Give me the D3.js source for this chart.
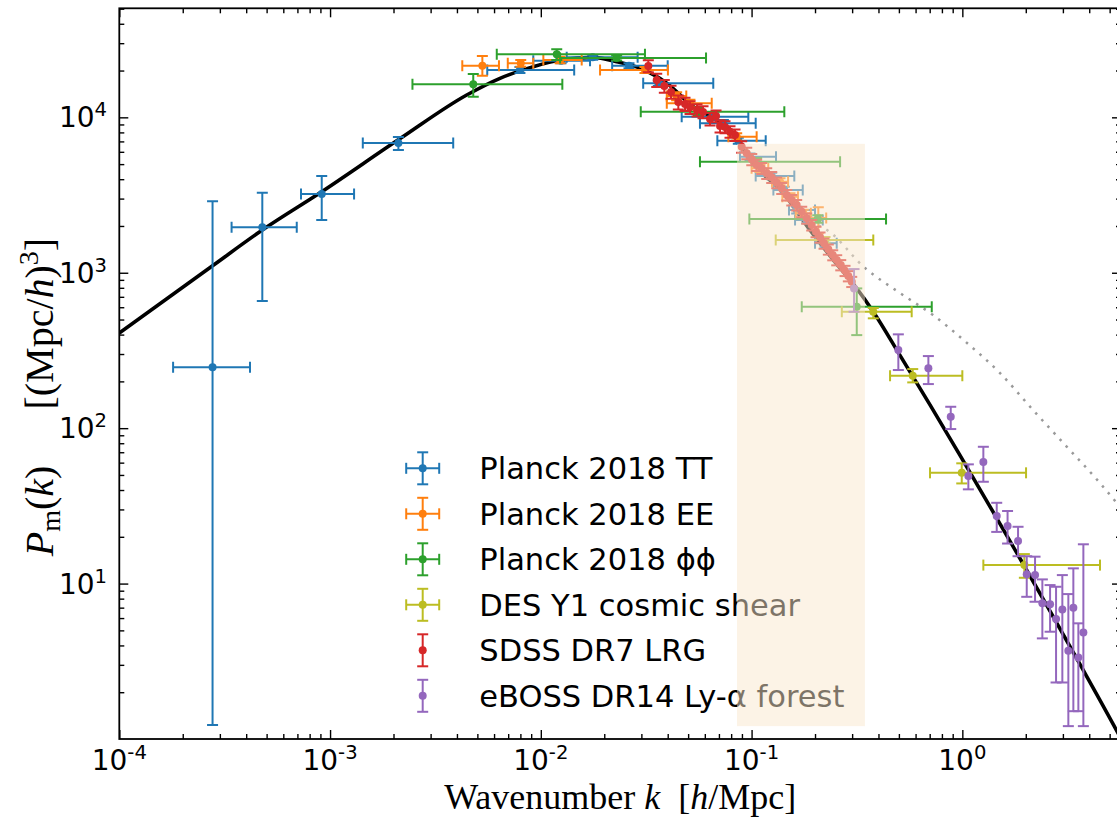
<!DOCTYPE html>
<html><head><meta charset="utf-8">
<script src="https://cdn.jsdelivr.net/npm/d3@7"></script>
<style>body{margin:0;background:#fff}svg{display:block}</style>
</head><body>
<svg id="c" width="1117" height="820"></svg>
<script>
// ---------------- data ----------------
const theoryK = [1e-4, 2.77e-4, 4.77e-4, 9.13e-4, 2.15e-3, 4.45e-3, 6.40e-3, 9.21e-3, 1.234e-2, 1.775e-2, 2.29e-2, 2.96e-2, 3.96e-2, 5.29e-2, 6.83e-2, 8.19e-2, 0.0983, 0.1415, 0.1894, 0.2443, 0.3155, 0.378, 0.5062, 0.7026, 0.9752, 1.353, 1.878, 2.607, 3.618, 5.21, 5.66];
const theoryP = [409, 1109, 1883, 3321, 7300, 13920, 17820, 21200, 23400, 24300, 22800, 20700, 16600, 11700, 9620, 7890, 5310, 3243, 1882, 1207, 794, 561, 294, 141.1, 66.8, 31.3, 14.5, 6.65, 3.02, 1.238, 1.005];

const nonlinK = [0.1894, 0.228, 0.3454, 0.5062, 0.7261, 1.053, 1.51, 2.165, 3.14, 4.50, 5.42, 5.66];
const nonlinP = [2120, 1883, 1072, 740, 534, 353, 226, 130.8, 75.6, 44.3, 32.8, 30.5];

const ttK   = [2.77e-4, 4.77e-4, 9.13e-4, 2.11e-3, 7.96e-3, 1.247e-2, 1.763e-2, 2.62e-2, 3.61e-2, 6.58e-2, 7.35e-2, 8.65e-2, 0.0983, 0.1246, 0.143, 0.1637, 0.1827, 0.2231];
const ttP   = [247, 1959, 3208, 6835, 20160, 23130, 24330, 21480, 16550, 10090, 9150, 7070, 5578, 4191, 3404, 2533, 2183, 1546];
const ttKlo = [1.80e-4, 3.41e-4, 7.28e-4, 1.43e-3, 5.57e-3, 9.21e-3, 1.327e-2, 2.18e-2, 3.06e-2, 4.66e-2, 5.69e-2, 6.88e-2, 8.81e-2, 0.1046, 0.1269, 0.1505, 0.1608, 0.2];
const ttKhi = [4.17e-4, 6.95e-4, 1.30e-3, 3.84e-3, 1.44e-2, 1.712e-2, 2.88e-2, 4.00e-2, 6.58e-2, 9.65e-2, 0.1046, 0.1167, 0.1306, 0.1595, 0.1749, 0.2, 0.2176, 0.2535];
const ttPlo = [1.23, 658, 2183, 6163, 19280, 22300, 23500, 20700, 15900, 9600, 8700, 6750, 5300, 3990, 3240, 2410, 2080, 1470];
const ttPhi = [2880, 3272, 4190, 7468, 21070, 24000, 25200, 22300, 17200, 10600, 9600, 7400, 5850, 4400, 3570, 2660, 2290, 1620];

const eeK   = [5.28e-3, 8.03e-3, 1.234e-2, 3.12e-2, 4.41e-2, 5.10e-2, 8.50e-2, 0.1097, 0.1365, 0.1522, 0.176, 0.2073];
const eeP   = [21480, 22260, 23400, 20160, 13710, 12300, 7505, 4697, 3852, 3083, 2411, 2249];
const eeKlo = [4.24e-3, 6.97e-3, 1.028e-2, 1.91e-2, 3.96e-2, 3.96e-2, 7.76e-2, 0.100, 0.125, 0.140, 0.162, 0.190];
const eeKhi = [6.33e-3, 9.21e-3, 1.563e-2, 4.01e-2, 4.9e-2, 6.47e-2, 0.1057, 0.120, 0.149, 0.166, 0.191, 0.226];
const eePlo = [18530, 21160, 22300, 19300, 12900, 11600, 7100, 4450, 3650, 2920, 2280, 1793];
const eePhi = [24800, 23370, 24500, 21050, 14500, 13000, 7900, 4950, 4060, 3250, 2540, 2635];

const ppK   = [4.78e-3, 1.19e-2, 2.29e-2, 5.59e-2, 0.1057, 0.206, 0.3155];
const ppP   = [16310, 25440, 24070, 10870, 5180, 2216, 604];
const ppKlo = [2.46e-3, 6.18e-3, 1.234e-2, 2.98e-2, 5.69e-2, 0.0976, 0.173];
const ppKhi = [1.265e-2, 3.12e-2, 6.08e-2, 0.143, 0.263, 0.4345, 0.716];
const ppPlo = [13570, 23370, 23200, 10300, 4900, 2100, 397];
const ppPhi = [18990, 27390, 25000, 11500, 5470, 2340, 793];

const desK   = [0.2231, 0.378, 0.5816, 0.9936, 1.969];
const desP   = [1623, 561, 217.4, 51.6, 13.15];
const desKlo = [0.1302, 0.268, 0.454, 0.7026, 1.258];
const desKhi = [0.378, 0.575, 1.0, 2.006, 4.50];
const desPlo = [1550, 509, 197, 44.1, 10.9];
const desPhi = [1700, 593, 240, 59.4, 15.48];

const sdssK = [0.03236, 0.03548, 0.03855, 0.04148, 0.04492, 0.04833, 0.05105, 0.0551, 0.05884, 0.06353, 0.06783, 0.07085, 0.07482, 0.079, 0.08346, 0.08978, 0.09484, 0.1002, 0.1057, 0.1117, 0.118, 0.1246, 0.1316, 0.139, 0.1468, 0.1551, 0.1637, 0.173, 0.1827, 0.1929, 0.2022, 0.2113, 0.2207, 0.2313, 0.2427, 0.2535, 0.2649, 0.2776, 0.2878, 0.2987];
const sdssP = [21380, 17380, 15900, 14550, 12545, 12180, 11600, 11140, 10820, 9750, 10190, 8790, 8660, 8078, 7692, 6468, 5866, 5366, 4932, 4697, 4361, 4111, 3795, 3493, 3162, 2937, 2727, 2469, 2239, 2027, 1835, 1690, 1546, 1415, 1300, 1207, 1121, 1030, 952, 875];
const sdssErr = [1900, 1700, 1500, 1400, 1300, 1200, 1100, 1000, 950, 900, 880, 800, 760, 700, 650, 560, 500, 450, 410, 380, 350, 330, 300, 280, 250, 230, 210, 190, 170, 155, 140, 128, 117, 107, 98, 91, 85, 78, 72, 66];

const ebK   = [0.3063, 0.497, 0.69, 0.881, 1.068, 1.258, 1.456, 1.639, 1.838, 2.021, 2.213, 2.397, 2.608, 2.784, 2.982, 3.184, 3.363, 3.552, 3.752];
const ebP   = [793, 318, 242.6, 118.4, 49.2, 60.5, 27.2, 23.5, 18.8, 11.5, 11.34, 7.46, 7.35, 5.91, 6.82, 3.69, 6.99, 3.35, 4.85];
const ebPlo = [561, 236.6, 192.2, 98.7, 40.4, 45.2, 21.5, 18.1, 15.0, 8.22, 7.64, 4.44, 4.90, 2.31, 2.31, 1.21, 1.51, 1.51, 1.21];
const ebPhi = [1056, 401.5, 291, 137.3, 58.5, 75.9, 33.1, 29.3, 23.2, 15.0, 14.9, 10.64, 9.78, 9.54, 11.34, 8.56, 12.53, 5.55, 17.9];

const bandK = [0.0853, 0.345];
const bandP = [1.21, 6750];

const legendLabels = ["Planck 2018 TT", "Planck 2018 EE", "Planck 2018 \u03d5\u03d5", "DES Y1 cosmic shear", "SDSS DR7 LRG", "eBOSS DR14 Ly-\u03b1 forest"];
const colors = ["#1f77b4", "#ff7f0e", "#2ca02c", "#bcbd22", "#d62728", "#9467bd"];
const xMajor = [1e-4, 1e-3, 1e-2, 1e-1, 1];
const xMajorExp = ["-4", "-3", "-2", "-1", "0"];
const yMajor = [10, 100, 1000, 10000];
const yMajorExp = ["1", "2", "3", "4"];

// ---------------- layout ----------------
const L = 119.3, R = 1121, T = 8.3, B = 739;
const x = d3.scaleLog().domain([1e-4, 5.66]).range([L, R]);
const y = d3.scaleLog().domain([1, 5.03e4]).range([B, T]);
const svg = d3.select("#c");

svg.append("defs").append("clipPath").attr("id", "clip")
  .append("rect").attr("x", L).attr("y", T).attr("width", R - L).attr("height", B - T);
const plot = svg.append("g").attr("clip-path", "url(#clip)");

function rows(K, P, Klo, Khi, Plo, Phi) {
  return K.map((k, i) => ({k, P: P[i], klo: Klo ? Klo[i] : null, khi: Khi ? Khi[i] : null, plo: Plo[i], phi: Phi[i]}));
}
const CAP = 5.5;
function errSeries(data, color) {
  const g = plot.append("g").attr("stroke", color).attr("stroke-width", 2).attr("fill", color);
  const hx = data.filter(d => d.klo != null);
  g.selectAll("line.h").data(hx).join("line").attr("class", "h")
    .attr("x1", d => x(d.klo)).attr("x2", d => x(d.khi)).attr("y1", d => y(d.P)).attr("y2", d => y(d.P));
  g.selectAll("line.v").data(data).join("line").attr("class", "v")
    .attr("x1", d => x(d.k)).attr("x2", d => x(d.k)).attr("y1", d => y(d.plo)).attr("y2", d => y(d.phi));
  const hcaps = hx.flatMap(d => [[d.klo, d.P], [d.khi, d.P]]);
  g.selectAll("line.hc").data(hcaps).join("line").attr("class", "hc")
    .attr("x1", d => x(d[0])).attr("x2", d => x(d[0])).attr("y1", d => y(d[1]) - CAP).attr("y2", d => y(d[1]) + CAP);
  const vcaps = data.flatMap(d => [[d.k, d.plo], [d.k, d.phi]]);
  g.selectAll("line.vc").data(vcaps).join("line").attr("class", "vc")
    .attr("x1", d => x(d[0]) - CAP).attr("x2", d => x(d[0]) + CAP).attr("y1", d => y(d[1])).attr("y2", d => y(d[1]));
  g.selectAll("circle").data(data).join("circle")
    .attr("cx", d => x(d.k)).attr("cy", d => y(d.P)).attr("r", 4).attr("stroke", "none");
}

// dotted nonlinear spectrum
plot.append("path").datum(nonlinK.map((k, i) => [k, nonlinP[i]]))
  .attr("fill", "none").attr("stroke", "#9a9a9a").attr("stroke-width", 2.5).attr("stroke-dasharray", "2.5,6.5")
  .attr("d", d3.line().x(d => x(d[0])).y(d => y(d[1])).curve(d3.curveMonotoneX));

// linear theory curve
plot.append("path").datum(theoryK.map((k, i) => [k, theoryP[i]]))
  .attr("fill", "none").attr("stroke", "#000").attr("stroke-width", 3.6)
  .attr("d", d3.line().x(d => x(d[0])).y(d => y(d[1])).curve(d3.curveMonotoneX));

errSeries(rows(ttK, ttP, ttKlo, ttKhi, ttPlo, ttPhi), colors[0]);
errSeries(rows(eeK, eeP, eeKlo, eeKhi, eePlo, eePhi), colors[1]);
errSeries(rows(ppK, ppP, ppKlo, ppKhi, ppPlo, ppPhi), colors[2]);
errSeries(rows(desK, desP, desKlo, desKhi, desPlo, desPhi), colors[3]);
errSeries(rows(sdssK, sdssP, null, null, sdssP.map((p, i) => p - sdssErr[i]), sdssP.map((p, i) => p + sdssErr[i])), colors[4]);
errSeries(rows(ebK, ebP, null, null, ebPlo, ebPhi), colors[5]);

// legend
const leg = svg.append("g");
const hasX = [true, true, true, true, false, false];
legendLabels.forEach((lab, i) => {
  const cy = 468.3 + i * 45.5, cx = 422.7;
  const g = leg.append("g").attr("stroke", colors[i]).attr("stroke-width", 2).attr("fill", colors[i]);
  if (hasX[i]) {
    g.append("line").attr("x1", cx - 16.5).attr("x2", cx + 16.5).attr("y1", cy).attr("y2", cy);
    [cx - 16.5, cx + 16.5].forEach(xx => g.append("line").attr("x1", xx).attr("x2", xx).attr("y1", cy - CAP).attr("y2", cy + CAP));
  }
  g.append("line").attr("x1", cx).attr("x2", cx).attr("y1", cy - 16).attr("y2", cy + 16);
  [cy - 16, cy + 16].forEach(yy => g.append("line").attr("x1", cx - CAP).attr("x2", cx + CAP).attr("y1", yy).attr("y2", yy));
  g.append("circle").attr("cx", cx).attr("cy", cy).attr("r", 4).attr("stroke", "none");
  leg.append("text").attr("x", 479.3).attr("y", cy + 11).attr("font-family", "DejaVu Sans")
    .attr("font-size", 30.5).attr("fill", "#000").text(lab);
});

// shaded band (drawn over everything in the axes)
svg.append("rect")
  .attr("x", x(bandK[0])).attr("width", x(bandK[1]) - x(bandK[0]))
  .attr("y", y(bandP[1])).attr("height", y(bandP[0]) - y(bandP[1]))
  .attr("fill", "#fae8ce").attr("opacity", 0.5);

// axes: ticks pointing inward on all four sides
function minors(lo, hi) {
  const out = [];
  for (let d = Math.floor(Math.log10(lo)); d <= Math.ceil(Math.log10(hi)); d++)
    for (let m = 2; m <= 9; m++) { const v = m * Math.pow(10, d); if (v > lo && v < hi) out.push(v); }
  return out;
}
const xMin = minors(1e-4, 5.66), yMin = minors(1, 5.03e4);
function styleAxis(g) { g.select(".domain").remove(); g.selectAll(".tick line").attr("stroke", "#000").attr("stroke-width", 1.4); }
svg.append("g").attr("transform", `translate(0,${B})`).call(d3.axisBottom(x).tickValues(xMajor).tickSize(-9).tickFormat("")).call(styleAxis);
svg.append("g").attr("transform", `translate(0,${B})`).call(d3.axisBottom(x).tickValues(xMin).tickSize(-5).tickFormat("")).call(styleAxis);
svg.append("g").attr("transform", `translate(0,${T})`).call(d3.axisTop(x).tickValues(xMajor).tickSize(-9).tickFormat("")).call(styleAxis);
svg.append("g").attr("transform", `translate(0,${T})`).call(d3.axisTop(x).tickValues(xMin).tickSize(-5).tickFormat("")).call(styleAxis);
svg.append("g").attr("transform", `translate(${L},0)`).call(d3.axisLeft(y).tickValues(yMajor).tickSize(-9).tickFormat("")).call(styleAxis);
svg.append("g").attr("transform", `translate(${L},0)`).call(d3.axisLeft(y).tickValues(yMin).tickSize(-5).tickFormat("")).call(styleAxis);
svg.append("g").attr("transform", `translate(${R},0)`).call(d3.axisRight(y).tickValues(yMajor).tickSize(-9).tickFormat("")).call(styleAxis);
svg.append("g").attr("transform", `translate(${R},0)`).call(d3.axisRight(y).tickValues(yMin).tickSize(-5).tickFormat("")).call(styleAxis);

svg.append("rect").attr("x", L).attr("y", T).attr("width", R - L).attr("height", B - T)
  .attr("fill", "none").attr("stroke", "#000").attr("stroke-width", 1.8);

// tick labels
const tl = svg.append("g").attr("font-family", "DejaVu Sans").attr("fill", "#000");
xMajor.forEach((v, i) => {
  const t = tl.append("text").attr("x", x(v)).attr("y", 770).attr("text-anchor", "middle").attr("font-size", 28);
  t.append("tspan").text("10");
  t.append("tspan").attr("font-size", 19.6).attr("dy", -11).text(xMajorExp[i]);
});
yMajor.forEach((v, i) => {
  const t = tl.append("text").attr("x", 107).attr("y", y(v) + 10).attr("text-anchor", "end").attr("font-size", 28);
  t.append("tspan").text("10");
  t.append("tspan").attr("font-size", 19.6).attr("dy", -11).text(yMajorExp[i]);
});

// axis labels
const xl = svg.append("text").attr("x", (L + R) / 2).attr("y", 809).attr("text-anchor", "middle")
  .attr("font-family", "Liberation Serif").attr("font-size", 36);
xl.append("tspan").text("Wavenumber ");
xl.append("tspan").attr("font-style", "italic").text("k");
xl.append("tspan").text("\u2002[");
xl.append("tspan").attr("font-style", "italic").text("h");
xl.append("tspan").text("/Mpc]");

const yl = svg.append("text").attr("transform", `translate(53,397) rotate(-90)`).attr("text-anchor", "middle")
  .attr("font-family", "Liberation Serif").attr("font-size", 40);
yl.append("tspan").attr("font-style", "italic").text("P");
yl.append("tspan").attr("font-size", 28).attr("dy", 7).text("m");
yl.append("tspan").attr("dy", -7).text("(");
yl.append("tspan").attr("font-style", "italic").text("k");
yl.append("tspan").text(")\u2002\u2002\u2009\u2009[(Mpc/");
yl.append("tspan").attr("font-style", "italic").text("h");
yl.append("tspan").text(")");
yl.append("tspan").attr("font-size", 28).attr("dy", -15).text("3");
yl.append("tspan").attr("dy", 15).text("]");
</script>
</body></html>
